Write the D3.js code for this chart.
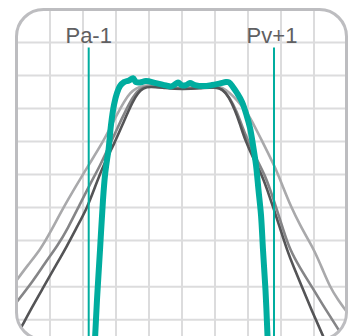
<!DOCTYPE html>
<html><head><meta charset="utf-8">
<script src="https://cdn.jsdelivr.net/npm/d3@7"></script>
<style>html,body{margin:0;padding:0;background:#fff;}svg{display:block;}</style>
</head><body>
<script>
// Data: x in channel offsets, y in dB
const xGrid = [-4,-3,-2,-1,0,1,2,3,4];
const yGrid = [-10,-20,-30,-40,-50,-60,-70,-84,-94];
const markerLabels = ["Pa-1","Pv+1"];
const markerX = [-2.827, 2.788];
const markerTop = -11.5;

const tealX = [-2.652,-2.576,-2.485,-2.394,-2.333,-2.273,-2.227,-2.152,-2.061,-1.970,-1.879,-1.758,-1.606,-1.485,-1.394,-1.273,-1.091,-0.788,-0.485,-0.333,-0.212,-0.121,0,0.121,0.242,0.394,0.636,0.909,1.152,1.333,1.424,1.545,1.667,1.818,1.955,2.061,2.152,2.242,2.318,2.394,2.455,2.530,2.591,2.606];
const tealY = [-103.2,-88.0,-72.9,-57.7,-50.2,-45.6,-42.6,-35.0,-28.9,-25.3,-23.2,-22.0,-21.5,-20.8,-22.0,-22.1,-21.7,-22.3,-23.0,-23.3,-22.7,-22.1,-23.0,-22.9,-22.3,-22.9,-23.2,-22.9,-22.4,-22.0,-22.1,-23.5,-25.3,-28.0,-32.0,-35.9,-41.1,-47.1,-54.7,-62.3,-72.9,-85.0,-98.9,-103.2];

const lightX = [-5.273,-5.030,-4.667,-4.303,-4.0,-3.606,-3.212,-2.848,-2.394,-2.061,-1.727,-1.576,-1.394,-1.182,-0.970,-0.667,-0.364,0,0.394,0.697,1.0,1.212,1.455,1.667,1.970,2.212,2.424,2.636,2.818,3.061,3.303,3.576,3.848,4.0,4.242,4.485,4.727,5.0,5.273];
const lightY = [-85.6,-82.3,-77.4,-72.9,-67.7,-60.2,-53.5,-47.4,-40.2,-33.5,-27.4,-25.3,-23.8,-23.2,-22.9,-23.2,-23.6,-23.8,-23.6,-23.3,-23.2,-23.5,-25.3,-27.4,-31.1,-35.6,-39.8,-44.1,-47.7,-53.8,-59.8,-65.3,-70.2,-72.9,-78.3,-84.1,-88.0,-91.7,-95.3];

const midX = [-5.273,-5.030,-4.515,-4.152,-3.758,-3.455,-3.152,-2.788,-2.485,-2.152,-1.818,-1.576,-1.424,-1.273,-1.091,-0.818,-0.364,0,0.394,0.848,1.212,1.455,1.667,1.818,2.0,2.242,2.515,2.697,2.848,3.061,3.273,3.576,3.939,4.364,4.788,4.939];
const midY = [-92.0,-88.9,-82.3,-76.8,-71.4,-66.2,-60.2,-52.9,-47.4,-40.2,-32.9,-28.0,-25.6,-24.1,-23.3,-23.3,-23.8,-24.1,-23.9,-23.5,-23.8,-26.8,-31.1,-35.3,-39.8,-45.0,-50.2,-55.3,-59.8,-66.5,-72.9,-78.3,-84.1,-91.1,-97.7,-100.2];

const darkX = [-5.061,-4.848,-4.545,-4.212,-3.848,-3.485,-3.152,-2.879,-2.636,-2.394,-2.030,-1.758,-1.485,-1.333,-1.182,-0.970,-0.515,0,0.545,1.0,1.212,1.424,1.606,1.758,1.909,2.182,2.424,2.606,2.758,2.970,3.182,3.394,3.636,3.939,4.273,4.424];
const darkY = [-99.8,-95.9,-90.2,-84.4,-78.0,-71.7,-65.3,-60.2,-53.8,-47.4,-40.2,-33.8,-27.7,-25.3,-23.8,-23.3,-23.8,-24.2,-23.9,-23.5,-23.9,-26.5,-30.5,-34.7,-39.5,-45.6,-50.2,-55.3,-59.8,-66.2,-72.9,-78.3,-84.1,-91.4,-98.9,-102.3];

const W = 353, H = 336;
const svg = d3.select("body").append("svg").attr("width", W).attr("height", H);
const x = d3.scaleLinear().domain([-5,5]).range([17,347]);
const y = d3.scaleLinear().domain([0,-100]).range([9.5,339.5]);

const frame = {x:16.5, y:9.5, w:330, h:330, r:27};
svg.append("clipPath").attr("id","clip").append("rect")
  .attr("x",frame.x).attr("y",frame.y).attr("width",frame.w).attr("height",frame.h).attr("rx",frame.r);

const g = svg.append("g").attr("clip-path","url(#clip)");
g.selectAll("line.vg").data(xGrid).enter().append("line")
  .attr("x1",d=>x(d)).attr("x2",d=>x(d)).attr("y1",0).attr("y2",H+20)
  .attr("stroke","#dcdcdd").attr("stroke-width",2);
g.selectAll("line.hg").data(yGrid).enter().append("line")
  .attr("x1",0).attr("x2",W).attr("y1",d=>y(d)).attr("y2",d=>y(d))
  .attr("stroke","#dcdcdd").attr("stroke-width",2);

const grayLine = d3.line().x(d=>x(d[0])).y(d=>y(d[1])).curve(d3.curveBasis);
const tealLine = d3.line().x(d=>x(d[0])).y(d=>y(d[1])).curve(d3.curveCatmullRom.alpha(0.5));
const zip = (a,b)=>a.map((v,i)=>[v,b[i]]);
const series = [
  {xs:lightX, ys:lightY, c:"#a9a9ab", w:2.6},
  {xs:midX, ys:midY, c:"#858587", w:2.6},
  {xs:darkX, ys:darkY, c:"#545456", w:2.6}
];
series.forEach(s=>{
  g.append("path").attr("d",grayLine(zip(s.xs,s.ys))).attr("fill","none")
   .attr("stroke",s.c).attr("stroke-width",s.w).attr("stroke-linejoin","round");
});
g.selectAll("line.mk").data(markerX).enter().append("line")
  .attr("x1",d=>x(d)).attr("x2",d=>x(d)).attr("y1",y(markerTop)).attr("y2",H+20)
  .attr("stroke","#00ad9f").attr("stroke-width",2);
g.append("path").attr("d",tealLine(zip(tealX,tealY))).attr("fill","none")
  .attr("stroke","#00ad9f").attr("stroke-width",6).attr("stroke-linejoin","round").attr("stroke-linecap","round");

svg.append("rect").attr("x",frame.x).attr("y",frame.y).attr("width",frame.w).attr("height",frame.h)
  .attr("rx",frame.r).attr("fill","none").attr("stroke","#bdbdc0").attr("stroke-width",3);

svg.selectAll("text.lbl").data(markerLabels).enter().append("text")
  .attr("x",(d,i)=>x(markerX[i]) - (i===1?2:0)).attr("y",y(-10))
  .attr("text-anchor","middle").attr("font-family","Liberation Sans, Arial, sans-serif")
  .attr("font-size",22).attr("fill","#606062").text(d=>d);
</script>
</body></html>
